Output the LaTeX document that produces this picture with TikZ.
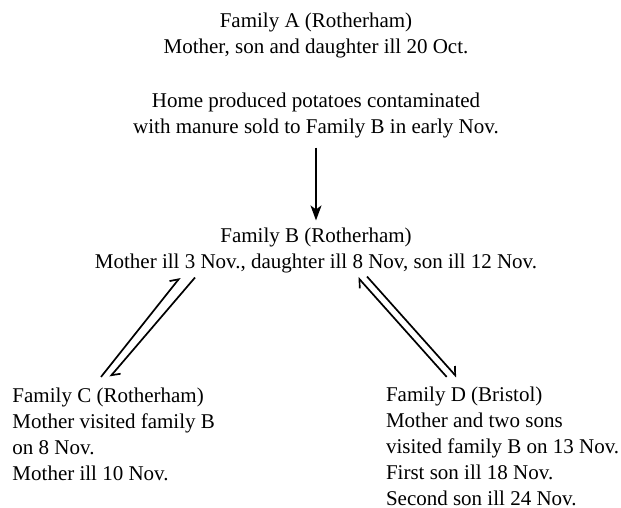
\documentclass[tikz,border=0pt]{standalone}
\usepackage{fontspec}
\setmainfont{Liberation Serif}
\usetikzlibrary{arrows.meta,calc}
\begin{document}
\begin{tikzpicture}[x=1pt,y=-1pt,
  txt/.style={font=\fontsize{21}{26}\selectfont, inner sep=0pt, outer sep=0pt},
  ctxt/.style={txt, align=center, anchor=base},
  ltxt/.style={txt, align=left, anchor=base west},
  harp/.style={line width=1.7pt, -{Straight Barb[harpoon,length=7pt,width=12pt,line width=1.7pt]}},
  down/.style={line width=1.7pt, -{Stealth[length=15pt,width=11pt,inset=4pt]}}]
\useasboundingbox (0,0) rectangle (621,508);
\node[ctxt] (A) at (316,53.5) {Family A (Rotherham)\\Mother, son and daughter ill 20 Oct.};
\node[ctxt] (P) at (316,134) {Home produced potatoes contaminated\\with manure sold to Family B in early Nov.};
\node[ctxt] (B) at (316,268) {Family B (Rotherham)\\Mother ill 3 Nov., daughter ill 8 Nov, son ill 12 Nov.};
\node[ltxt] (C) at (12.5,480) {Family C (Rotherham)\\Mother visited family B\\on 8 Nov.\\Mother ill 10 Nov.};
\node[ltxt] (D) at (386,505) {Family D (Bristol)\\Mother and two sons\\visited family B on 13 Nov.\\First son ill 18 Nov.\\Second son ill 24 Nov.};
\draw[down] ($(P.south)+(0,9)$) -- ($(B.north)+(0,-7)$);
\draw[harp] ($(C.north west)+(88.5,-10.5)$) -- ($(B.south)+(-136,5)$);
\draw[harp] ($(B.south)+(-121,5)$) -- ($(C.north west)+(97.5,-10.5)$);
\draw[harp] ($(D.north west)+(60.7,-9.5)$) -- ($(B.south)+(42,5)$);
\draw[harp] ($(B.south)+(51,4)$) -- ($(D.north west)+(70.7,-9.5)$);
\end{tikzpicture}
\end{document}
